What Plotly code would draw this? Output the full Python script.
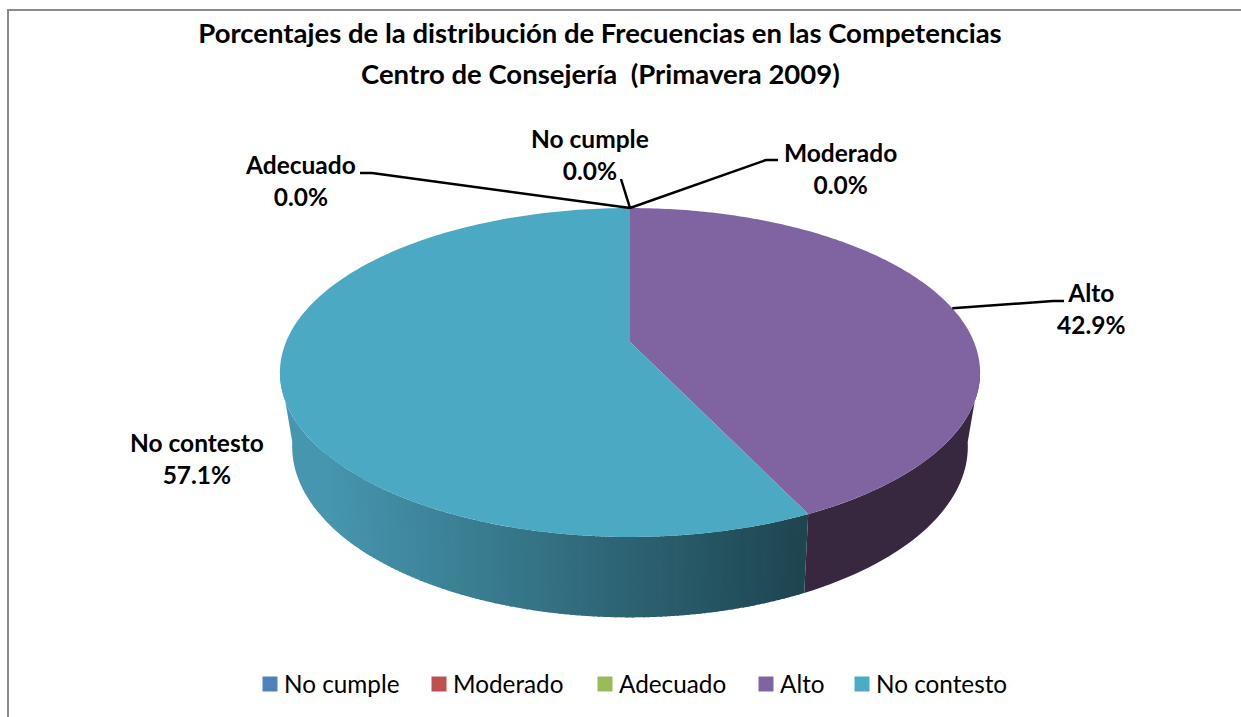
"""Frequency percentages per competency, drawn as a tilted pie with depth."""

import numpy as np
import plotly.graph_objects as go

CATEGORIES = ["No cumple", "Moderado", "Adecuado", "Alto", "No contesto"]
PERCENTAGES = [0.0, 0.0, 0.0, 42.9, 57.1]
COLORS = ["#4F81BD", "#C0504D", "#9BBB59", "#8064A2", "#4BACC6"]
TOP_COLORS = ["#4F81BD", "#C0504D", "#9BBB59", "#8064A2", "#4BA9C4"]

# label centre and leader elbow points, in page pixels
LABEL_POSITIONS = [(590, 154), (840, 168), (300, 180), (1091, 308), (197, 458)]
LEADERS = [
    [(621, 179)],
    [(778, 160), (766, 160)],
    [(360, 173), (372, 173)],
    [(1064, 301), (1053, 301)],
    [],
]
LEGEND_X = [270, 439, 605, 766, 862]
LEGEND_Y = 684

WIDTH, HEIGHT = 1241, 717
CENTER_X = 630
TOP_RIM = dict(y0=342, rx=344, ry=158.8, k=0.1854)
BOTTOM_RIM = dict(y0=412.4, rx=331, ry=164, k=0.2)
TITLE_FONT = dict(family="Lato", size=27.5, color="#000000")
WALL_LIGHT = (70, 150, 175)
WALL_DARK = (30, 69, 80)


def rim(theta, y0, rx, ry, k):
    """Project a circle angle (clockwise from the back) to the page."""
    w = 1 + k * np.cos(theta)
    return CENTER_X + rx * np.sin(theta) / w, y0 - ry * np.cos(theta) / w


def mix(start, end, t):
    rgb = [round(a + (b - a) * t) for a, b in zip(start, end)]
    return f"rgb({rgb[0]},{rgb[1]},{rgb[2]})"


def add_wall(figure, start, stop, color):
    """Fill the side of the pie between two angles."""
    arc = np.linspace(start, stop, max(6, int((stop - start) * 40)))
    ux, uy = rim(arc, **TOP_RIM)
    lx, ly = rim(arc, **BOTTOM_RIM)
    figure.add_trace(
        go.Scatter(
            x=np.concatenate([ux, lx[::-1]]),
            y=np.concatenate([uy, ly[::-1]]),
            fill="toself",
            fillcolor=color,
            mode="none",
            showlegend=False,
            hoverinfo="skip",
        )
    )


fractions = np.array(PERCENTAGES) / sum(PERCENTAGES)
edges = 2 * np.pi * np.concatenate([[0], np.cumsum(fractions)])
middles = (edges[:-1] + edges[1:]) / 2

fig = go.Figure()

# side wall: the dark slice is one piece, the shaded one is split into strips,
# with a plain piece at the far left where thin strips would ripple
alto_end = edges[4]
shade_end = np.radians(232)
shade_start_x = rim(shade_end, **BOTTOM_RIM)[0]
add_wall(fig, np.radians(100), alto_end, "#372840")
add_wall(fig, np.radians(222), np.radians(260), mix(WALL_LIGHT, WALL_DARK, 0))
cuts = np.linspace(alto_end, shade_end, 100)
for a, b in zip(cuts[:-1], cuts[1:]):
    x_mid = rim((a + b) / 2, **BOTTOM_RIM)[0]
    t = np.clip((x_mid - shade_start_x) / (800 - shade_start_x), 0, 1)
    add_wall(fig, a, b + 0.004, mix(WALL_LIGHT, WALL_DARK, t))

# top face
for i, name in enumerate(CATEGORIES):
    if fractions[i] == 0:
        continue
    arc = np.linspace(edges[i], edges[i + 1], 200)
    rx_, ry_ = rim(arc, **TOP_RIM)
    fig.add_trace(
        go.Scatter(
            x=np.concatenate([[CENTER_X], rx_, [CENTER_X]]),
            y=np.concatenate([[TOP_RIM["y0"]], ry_, [TOP_RIM["y0"]]]),
            fill="toself",
            fillcolor=TOP_COLORS[i],
            mode="none",
            showlegend=False,
            name=name,
            hovertemplate=f"{name}: {PERCENTAGES[i]:.1f}%<extra></extra>",
        )
    )

# leader lines run from the label elbow to the middle of each slice's rim
for i, points in enumerate(LEADERS):
    if not points:
        continue
    ax, ay = rim(middles[i], **TOP_RIM)
    fig.add_trace(
        go.Scatter(
            x=[p[0] for p in points] + [float(ax)],
            y=[p[1] for p in points] + [float(ay)],
            mode="lines",
            line=dict(color="#000000", width=2.5),
            showlegend=False,
            hoverinfo="skip",
        )
    )

# legend row, placed by hand because the native legend cannot match its spacing
for name, color, x in zip(CATEGORIES, COLORS, LEGEND_X):
    fig.add_trace(
        go.Scatter(
            x=[x],
            y=[LEGEND_Y],
            mode="markers",
            name=name,
            marker=dict(symbol="square", size=15, color=color),
            showlegend=False,
            hoverinfo="skip",
        )
    )
    fig.add_annotation(
        x=x + 12,
        y=LEGEND_Y - 1,
        xanchor="left",
        text=name,
        showarrow=False,
        font=dict(family="Lato", size=24.3, color="#000000"),
    )

for name, value, (lx, ly) in zip(CATEGORIES, PERCENTAGES, LABEL_POSITIONS):
    fig.add_annotation(
        x=lx,
        y=ly,
        text=f"{name}<br>{value:.1f}%",
        showarrow=False,
        font=dict(family="Lato", size=24.5, color="#000000", weight="bold"),
        align="center",
    )

fig.add_annotation(
    x=600,
    y=73,
    text="<b>Centro de Consejería  (Primavera 2009)</b>",
    showarrow=False,
    font=TITLE_FONT,
)

fig.update_layout(
    width=WIDTH,
    height=HEIGHT,
    margin=dict(l=0, r=0, t=0, b=0),
    paper_bgcolor="white",
    plot_bgcolor="white",
    font=dict(family="Lato", color="#000000"),
    showlegend=False,
    title=dict(
        text="<b>Porcentajes de la distribución de Frecuencias en las Competencias</b>",
        font=TITLE_FONT,
        x=600 / WIDTH,
        xanchor="center",
        y=1 - 33 / HEIGHT,
        yanchor="middle",
        automargin=False,
    ),
    shapes=[
        dict(
            type="rect",
            x0=8,
            y0=10,
            x1=1300,
            y1=800,
            line=dict(color="#8C8C8C", width=2),
            layer="below",
        )
    ],
)
fig.update_xaxes(range=[0, WIDTH], visible=False, fixedrange=True)
fig.update_yaxes(range=[HEIGHT, 0], visible=False, fixedrange=True)

fig.write_html(
    "out.html",
    config={"displayModeBar": False},
    post_script="document.body.style.margin = '0';",
)
